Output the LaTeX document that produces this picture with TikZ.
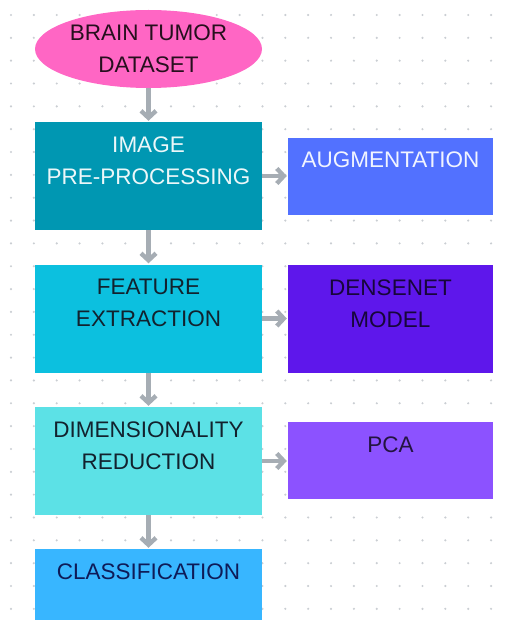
\documentclass[tikz,border=0pt]{standalone}
\usepackage{fontspec}
\setmainfont{Liberation Sans}
\usetikzlibrary{arrows.meta, positioning, shapes.geometric}
\definecolor{mypink}{HTML}{FF66C4}
\definecolor{myteal}{HTML}{0097B2}
\definecolor{mycyan}{HTML}{0CC0DF}
\definecolor{myturq}{HTML}{5CE1E6}
\definecolor{mysky}{HTML}{38B6FF}
\definecolor{myblue}{HTML}{5271FF}
\definecolor{myviolet}{HTML}{5E17EB}
\definecolor{mypurple}{HTML}{8C52FF}
\definecolor{mygrey}{HTML}{A6ADB4}
\definecolor{mydot}{HTML}{CACED3}
\definecolor{mydark}{HTML}{12222E}
\tikzset{
  % blocchi del flusso
  block/.style={rectangle,minimum width=227,minimum height=108,inner sep=0},
  side block/.style={rectangle,minimum width=205,minimum height=77,inner sep=0},
  block text/.style={font=\fontsize{22.5}{32}\selectfont,align=center,anchor=north,inner sep=0},
  % frecce
  flow/.style={-{Straight Barb[length=7,width=15]},line width=4.4,mygrey,shorten >=1}
}
\begin{document}
\begin{tikzpicture}[x=1pt,y=-1pt]
  \useasboundingbox (0,0) rectangle (504,620);
  % griglia di punti
  \foreach \i in {0,...,21}{
    \foreach \j in {0,...,26}{
      \fill[mydot] ({11+22.86*\i},{15+22.84*\j}) circle (1.2);
    }
  }
  \node[ellipse,fill=mypink,minimum width=227,minimum height=78,inner sep=0,
        font=\fontsize{22.5}{32}\selectfont,align=center,text=black!85!mypink]
        (data) at (148.5,49) {BRAIN TUMOR\\DATASET};
  \node[block,fill=myteal] (pre) at (148.5,176) {};
  \node[block,fill=mycyan] (feat) at (148.5,318.5) {};
  \node[block,fill=myturq] (dim) at (148.5,461) {};
  \node[block,fill=mysky] (cls) at (148.5,603) {};
  \node[side block,fill=myblue] (aug) at (390.5,176.5) {};
  \node[side block,fill=myviolet,minimum height=108] (dense) at (390.5,319) {};
  \node[side block,fill=mypurple] (pca) at (390.5,460.5) {};
  % testi
  \node[block text,text=white!92!myteal] (preT) at ([yshift=-15]pre.north) {IMAGE\\PRE-PROCESSING};
  \node[block text,text=mydark] (featT) at ([yshift=-15]feat.north) {FEATURE\\EXTRACTION};
  \node[block text,text=mydark] (dimT) at ([yshift=-15]dim.north) {DIMENSIONALITY\\REDUCTION};
  \node[block text,text=mydark!80!blue] (clsT) at ([yshift=-15]cls.north) {CLASSIFICATION};
  \node[block text,text=white!92!myblue] (augT) at ([yshift=-14]aug.north) {AUGMENTATION};
  \node[block text,text=black!75!myviolet] (denseT) at ([yshift=-15]dense.north) {DENSENET\\MODEL};
  \node[block text,text=black!75!mypurple] (pcaT) at ([yshift=-15]pca.north) {PCA};
  % connessioni
  \draw[flow] (data) -- (pre);
  \draw[flow] (pre) -- (feat);
  \draw[flow] (feat) -- (dim);
  \draw[flow] (dim) -- (cls);
  \draw[flow] (pre.east) -- (pre.east -| aug.west);
  \draw[flow] (feat.east) -- (feat.east -| dense.west);
  \draw[flow] (dim.east) -- (dim.east -| pca.west);
\end{tikzpicture}
\end{document}
